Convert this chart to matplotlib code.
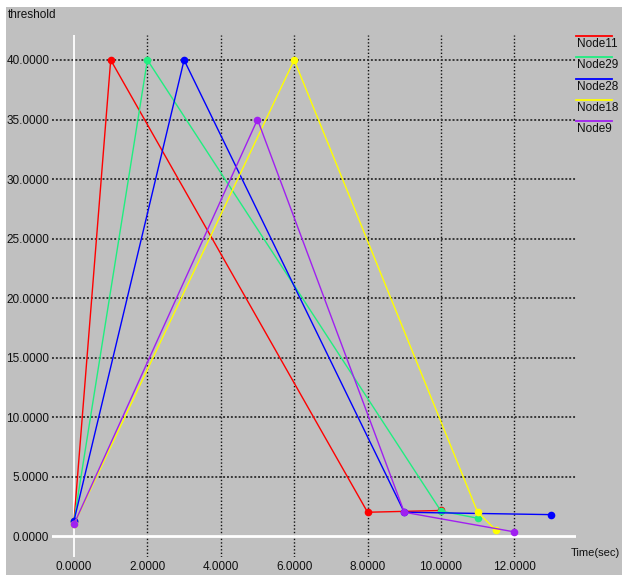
import matplotlib
matplotlib.use('Agg')
import matplotlib.pyplot as plt
from matplotlib.lines import Line2D
from matplotlib.patches import Rectangle

# Threshold trace for each node: (time, threshold) pairs
names = ['Node11', 'Node29', 'Node28', 'Node18', 'Node9']
colors = ['#ff0000', '#20ee80', '#0000ff', '#ffff00', '#a020f0']

node11_t = [0, 1, 8, 10]
node11_v = [1.3, 40, 2.0, 2.15]
node29_t = [0, 2, 10, 11]
node29_v = [1.3, 40, 2.1, 1.5]
node28_t = [0, 3, 9, 13]
node28_v = [1.3, 40, 2.0, 1.8]
node18_t = [0, 6, 11, 11.5]
node18_v = [1.0, 40, 2.0, 0.5]
node9_t = [0, 5, 9, 12]
node9_v = [1.0, 35, 2.0, 0.35]

xticks = [0, 2, 4, 6, 8, 10, 12]
yticks = [0, 5, 10, 15, 20, 25, 30, 35, 40]

W, H = 622, 575
BG = '#c0c0c0'
plt.rcParams['font.family'] = ['Liberation Sans', 'DejaVu Sans']


def fx(x):
    return x / W


def fy(y):
    return 1 - y / H


def main():
    fig = plt.figure(figsize=(W / 100, H / 100), dpi=100, facecolor='white')
    # gray panel behind everything, with a thin white margin top and left
    fig.patches.append(Rectangle((fx(6), 0), 1 - fx(6), fy(7), transform=fig.transFigure,
                                 facecolor=BG, edgecolor='none', zorder=-10))

    ax = fig.add_axes([fx(52), fy(557), fx(576) - fx(52), fy(35) - fy(557)])
    ax.set_facecolor(BG)
    for s in ax.spines.values():
        s.set_visible(False)

    ax.set_xlim(-0.6, 13.68)
    ax.set_ylim(-1.76, 42.1)

    # dotted grid, with white lines for the zero axes
    for x in xticks[1:]:
        ax.axvline(x, color='#101010', lw=1, ls=(0, (1, 1.5)), zorder=1)
    for y in yticks[1:]:
        ax.axhline(y, color='#383838', lw=1.4, ls=(0, (1, 1)), zorder=1)
    ax.axvline(0, color='white', lw=1.3, zorder=1)
    ax.axhline(0, color='white', lw=2, zorder=1)

    series = [(node11_t, node11_v), (node29_t, node29_v), (node28_t, node28_v),
              (node18_t, node18_v), (node9_t, node9_v)]
    for (t, v), c in zip(series, colors):
        ax.plot(t, v, color=c, lw=1, marker='o', markersize=5.5,
                markeredgewidth=0, zorder=3)

    ax.set_xticks(xticks)
    ax.set_xticklabels(['%.4f' % x for x in xticks])
    ax.set_yticks(yticks)
    ax.set_yticklabels(['%.4f' % y for y in yticks])
    ax.tick_params(length=0, labelsize=8.5, colors='#101010')
    ax.tick_params(axis='x', pad=3)
    ax.tick_params(axis='y', pad=2)

    fig.text(fx(8), fy(15), 'threshold', fontsize=8.5, va='center', ha='left', color='#101010')
    fig.text(fx(620), fy(553), 'Time(sec)', fontsize=8, va='center', ha='right', color='#101010')

    # legend: short colored bar above each name
    for i, (n, c) in enumerate(zip(names, colors)):
        yl = 36 + 21.3 * i
        fig.lines.append(Line2D([fx(576), fx(612)], [fy(yl), fy(yl)], color=c, lw=1.3,
                                transform=fig.transFigure))
        fig.text(fx(577), fy(yl + 8), n, fontsize=8.5, va='center', ha='left', color='#101010')

    fig.savefig('out.png', dpi=100, facecolor='white')


if __name__ == '__main__':
    main()
